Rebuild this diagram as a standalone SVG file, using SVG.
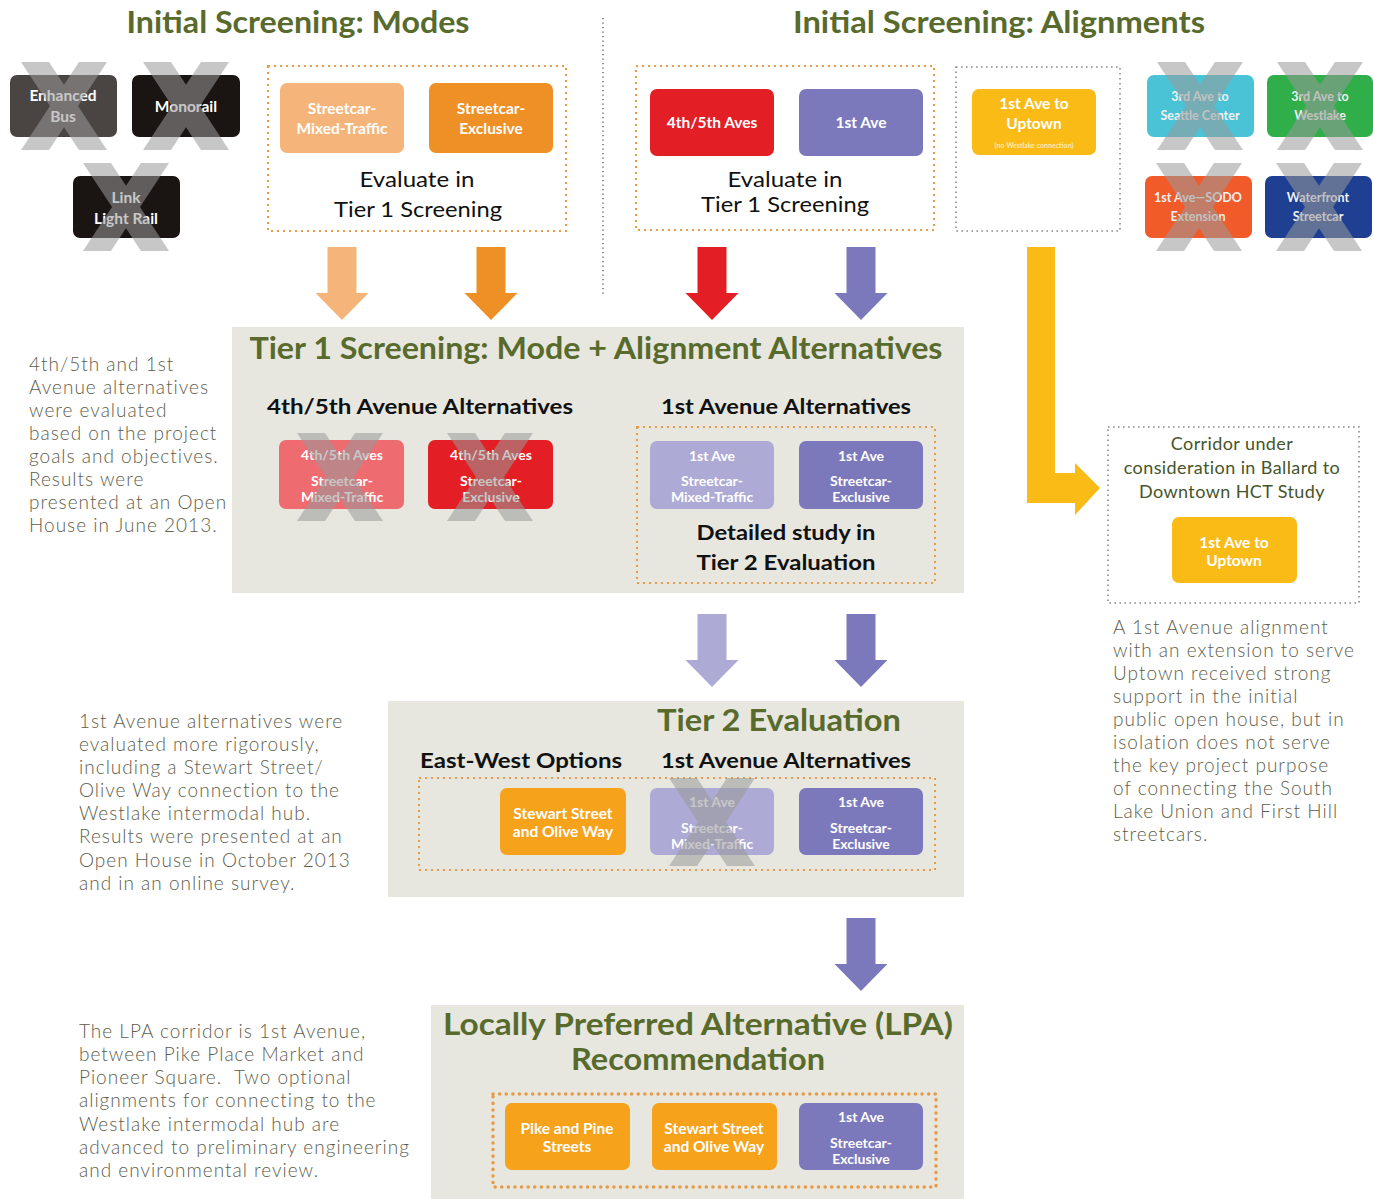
<svg xmlns="http://www.w3.org/2000/svg" xmlns:xlink="http://www.w3.org/1999/xlink" width="1373" height="1199" viewBox="0 0 1373 1199">
<style>
  .title { font-family: Lato, "Open Sans", "DejaVu Sans", sans-serif; font-weight: 700; font-size: 31px; fill: #586b2c; text-anchor: middle; }
  .sub { font-family: Lato, "Open Sans", "DejaVu Sans", sans-serif; font-weight: 700; font-size: 21px; fill: #111; text-anchor: middle; }
  .ev { font-family: Lato, "Open Sans", "DejaVu Sans", sans-serif; font-weight: 400; font-size: 20.5px; fill: #111; text-anchor: middle; }
  .lbl { font-family: Lato, "Open Sans", "DejaVu Sans", sans-serif; font-weight: 700; font-size: 15.5px; fill: #fff; text-anchor: middle; }
  .lbl.s14 { font-size: 14px; }
  .lbl.s7 { font-size: 7px; fill: #fde9b0; }
  .sm { font-family: Lato, "Open Sans", "DejaVu Sans", sans-serif; font-weight: 700; font-size: 12.5px; fill: #f2f2f2; text-anchor: middle; }
  .body { font-family: Lato, "Open Sans", "DejaVu Sans", sans-serif; font-weight: 300; font-size: 19px; letter-spacing: 1px; fill: #5e5e4c; }
  .note { font-family: Lato, "Open Sans", "DejaVu Sans", sans-serif; font-weight: 400; font-size: 18px; letter-spacing: 0.4px; fill: #46552a; text-anchor: middle; }
  .panel { fill: #e7e7e0; }
  .dotO { fill: none; stroke: #e99a45; stroke-width: 2; stroke-dasharray: 2 4; }
  .dotO2 { fill: none; stroke: #e99a45; stroke-width: 3.5; stroke-dasharray: 0.1 6.5; stroke-linecap: round; }
  .dotG { fill: none; stroke: #8a8a8a; stroke-width: 1.6; stroke-dasharray: 1.6 3.4; }
  .x { fill: #9a9a9a; opacity: 0.55; }
</style>
<defs>
  <symbol id="xmark" viewBox="0 0 86 88" width="86" height="88" overflow="visible">
    <polygon points="0,0 28,0 86,88 58,88"/>
    <polygon points="58,0 86,0 28,88 0,88"/>
  </symbol>
  <path id="arrowDown" d="M-14.5,0 h29 v46 h12 l-26.5,27 l-26.5,-27 h12 z"/>
</defs>

<rect width="1373" height="1199" fill="#ffffff"/>

<!-- Panels -->
<g id="panels">
  <rect class="panel" x="232" y="327" width="732" height="266"/>
  <rect class="panel" x="388" y="701" width="576" height="196"/>
  <rect class="panel" x="431" y="1005" width="533" height="194"/>
</g>

<!-- Headings -->
<g id="headings">
  <text class="title" x="298" y="33" textLength="343" lengthAdjust="spacingAndGlyphs">Initial Screening: Modes</text>
  <text class="title" x="999" y="33" textLength="412" lengthAdjust="spacingAndGlyphs">Initial Screening: Alignments</text>
  <line x1="603" y1="18" x2="603" y2="295" stroke="#555" stroke-width="1.3" stroke-dasharray="1.3 3.2"/>
  <text class="title" x="596" y="359" textLength="693" lengthAdjust="spacingAndGlyphs">Tier 1 Screening: Mode + Alignment Alternatives</text>
  <text class="sub" x="420" y="414" textLength="306" lengthAdjust="spacingAndGlyphs">4th/5th Avenue Alternatives</text>
  <text class="sub" x="786" y="414" textLength="250" lengthAdjust="spacingAndGlyphs">1st Avenue Alternatives</text>
  <text class="title" x="779" y="731" textLength="244" lengthAdjust="spacingAndGlyphs">Tier 2 Evaluation</text>
  <text class="sub" x="521" y="768" textLength="202" lengthAdjust="spacingAndGlyphs">East-West Options</text>
  <text class="sub" x="786" y="768" textLength="250" lengthAdjust="spacingAndGlyphs">1st Avenue Alternatives</text>
  <text class="title" x="698" y="1035" textLength="510" lengthAdjust="spacingAndGlyphs">Locally Preferred Alternative (LPA)</text>
  <text class="title" x="698" y="1070" textLength="254" lengthAdjust="spacingAndGlyphs">Recommendation</text>
</g>

<!-- Group boxes -->
<g id="group-modes">
  <rect class="dotO" x="268" y="66" width="298" height="165"/>
  <text class="ev" x="417" y="187" textLength="115" lengthAdjust="spacingAndGlyphs">Evaluate in</text>
  <text class="ev" x="418" y="217" textLength="168" lengthAdjust="spacingAndGlyphs">Tier 1 Screening</text>
</g>
<g id="group-alignments">
  <rect class="dotO" x="636" y="66" width="298" height="164"/>
  <text class="ev" x="785" y="187" textLength="115" lengthAdjust="spacingAndGlyphs">Evaluate in</text>
  <text class="ev" x="785" y="212" textLength="168" lengthAdjust="spacingAndGlyphs">Tier 1 Screening</text>
</g>
<g id="group-uptown">
  <rect class="dotG" x="956" y="67" width="164" height="164"/>
</g>
<g id="group-tier1-1st">
  <rect class="dotO" x="637" y="427" width="298" height="156"/>
  <text class="sub" x="786" y="540" textLength="179" lengthAdjust="spacingAndGlyphs">Detailed study in</text>
  <text class="sub" x="786" y="570" textLength="179" lengthAdjust="spacingAndGlyphs">Tier 2 Evaluation</text>
</g>
<g id="group-tier2">
  <rect class="dotO" x="419" y="778" width="516" height="92"/>
</g>
<g id="group-lpa">
  <rect class="dotO2" x="493" y="1094" width="443" height="93"/>
</g>
<g id="group-ballard">
  <rect class="dotG" x="1108" y="427" width="251" height="176"/>
  <text class="note" x="1232" y="450">Corridor under</text>
  <text class="note" x="1232" y="474">consideration in Ballard to</text>
  <text class="note" x="1232" y="498">Downtown HCT Study</text>
</g>

<!-- Connectors -->
<g id="connectors">
  <use href="#arrowDown" x="342" y="247" fill="#f5b57a"/>
  <use href="#arrowDown" x="491" y="247" fill="#ef9026"/>
  <use href="#arrowDown" x="712" y="247" fill="#e31e24"/>
  <use href="#arrowDown" x="861" y="247" fill="#7b79bb"/>
  <use href="#arrowDown" x="712" y="614" fill="#aeaad6"/>
  <use href="#arrowDown" x="861" y="614" fill="#7b79bb"/>
  <use href="#arrowDown" x="861" y="918" fill="#7b79bb"/>
  <path d="M1027,247 h28 v226 h20 v-10 l25,25 l-25,27 v-12 h-48 z" fill="#fbbb17"/>
</g>

<!-- Initial modes (eliminated) -->
<g id="node-enhanced-bus">
  <rect x="10" y="75" width="107" height="62" rx="7" fill="#4a4543"/>
  <text class="lbl" x="63" y="101">Enhanced</text>
  <text class="lbl" x="63" y="122">Bus</text>
  <use href="#xmark" class="x" x="21" y="62"/>
</g>
<g id="node-monorail">
  <rect x="132" y="75" width="108" height="62" rx="7" fill="#1a1412"/>
  <text class="lbl" x="186" y="112">Monorail</text>
  <use href="#xmark" class="x" x="143" y="62"/>
</g>
<g id="node-link">
  <rect x="73" y="176" width="107" height="62" rx="7" fill="#1a1412"/>
  <text class="lbl" x="126" y="203">Link</text>
  <text class="lbl" x="126" y="224">Light Rail</text>
  <use href="#xmark" class="x" x="83" y="163"/>
</g>

<!-- Initial modes (kept) -->
<g id="node-sc-mixed">
  <rect x="280" y="83" width="124" height="70" rx="7" fill="#f5b57a"/>
  <text class="lbl" x="342" y="114">Streetcar-</text>
  <text class="lbl" x="342" y="134">Mixed-Traffic</text>
</g>
<g id="node-sc-excl">
  <rect x="429" y="83" width="124" height="70" rx="7" fill="#ef9026"/>
  <text class="lbl" x="491" y="114">Streetcar-</text>
  <text class="lbl" x="491" y="134">Exclusive</text>
</g>

<!-- Initial alignments -->
<g id="node-45-aves">
  <rect x="650" y="89" width="124" height="67" rx="7" fill="#e31e24"/>
  <text class="lbl" x="712" y="128">4th/5th Aves</text>
</g>
<g id="node-1st-ave">
  <rect x="799" y="89" width="124" height="67" rx="7" fill="#7b79bb"/>
  <text class="lbl" x="861" y="128">1st Ave</text>
</g>
<g id="node-1st-uptown">
  <rect x="972" y="89" width="124" height="66" rx="7" fill="#fbbb17"/>
  <text class="lbl" x="1034" y="109">1st Ave to</text>
  <text class="lbl" x="1034" y="129">Uptown</text>
  <text class="lbl s7" x="1034" y="148">(no Westlake connection)</text>
</g>
<g id="node-3rd-seattle">
  <rect x="1147" y="75" width="107" height="62" rx="7" fill="#4bc3d6"/>
  <text class="sm" x="1200" y="101">3rd Ave to</text>
  <text class="sm" x="1200" y="120">Seattle Center</text>
  <use href="#xmark" class="x" x="1157" y="62"/>
</g>
<g id="node-3rd-westlake">
  <rect x="1267" y="75" width="106" height="62" rx="7" fill="#2fae4a"/>
  <text class="sm" x="1320" y="101">3rd Ave to</text>
  <text class="sm" x="1320" y="120">Westlake</text>
  <use href="#xmark" class="x" x="1277" y="62"/>
</g>
<g id="node-sodo">
  <rect x="1145" y="176" width="107" height="62" rx="7" fill="#f15a29"/>
  <text class="sm" x="1198" y="202">1st Ave—SODO</text>
  <text class="sm" x="1198" y="221">Extension</text>
  <use href="#xmark" class="x" x="1156" y="163"/>
</g>
<g id="node-waterfront">
  <rect x="1265" y="176" width="107" height="62" rx="7" fill="#1f3f93"/>
  <text class="sm" x="1318" y="202">Waterfront</text>
  <text class="sm" x="1318" y="221">Streetcar</text>
  <use href="#xmark" class="x" x="1276" y="163"/>
</g>

<!-- Tier 1 -->
<g id="node-t1-45-mixed">
  <rect x="279" y="440" width="125" height="69" rx="7" fill="#ee6b70"/>
  <text class="lbl s14" x="342" y="460">4th/5th Aves</text>
  <text class="lbl s14" x="342" y="485.5">Streetcar-</text>
  <text class="lbl s14" x="342" y="502">Mixed-Traffic</text>
  <use href="#xmark" class="x" x="297" y="433"/>
</g>
<g id="node-t1-45-excl">
  <rect x="428" y="440" width="125" height="69" rx="7" fill="#e31e24"/>
  <text class="lbl s14" x="491" y="460">4th/5th Aves</text>
  <text class="lbl s14" x="491" y="485.5">Streetcar-</text>
  <text class="lbl s14" x="491" y="502">Exclusive</text>
  <use href="#xmark" class="x" x="447" y="433"/>
</g>
<g id="node-t1-1st-mixed">
  <rect x="650" y="441" width="124" height="68" rx="7" fill="#aeaad6"/>
  <text class="lbl s14" x="712" y="461">1st Ave</text>
  <text class="lbl s14" x="712" y="485.5">Streetcar-</text>
  <text class="lbl s14" x="712" y="502">Mixed-Traffic</text>
</g>
<g id="node-t1-1st-excl">
  <rect x="799" y="441" width="124" height="68" rx="7" fill="#7b79bb"/>
  <text class="lbl s14" x="861" y="461">1st Ave</text>
  <text class="lbl s14" x="861" y="485.5">Streetcar-</text>
  <text class="lbl s14" x="861" y="502">Exclusive</text>
</g>

<!-- Ballard box node -->
<g id="node-ballard-uptown">
  <rect x="1172" y="517" width="125" height="66" rx="7" fill="#fbbb17"/>
  <text class="lbl" x="1234" y="548">1st Ave to</text>
  <text class="lbl" x="1234" y="566">Uptown</text>
</g>

<!-- Tier 2 -->
<g id="node-t2-stewart">
  <rect x="500" y="788" width="126" height="67" rx="7" fill="#f7a21b"/>
  <text class="lbl" x="563" y="819">Stewart Street</text>
  <text class="lbl" x="563" y="837">and Olive Way</text>
</g>
<g id="node-t2-1st-mixed">
  <rect x="650" y="788" width="124" height="67" rx="7" fill="#aeaad6"/>
  <text class="lbl s14" x="712" y="807">1st Ave</text>
  <text class="lbl s14" x="712" y="832.5">Streetcar-</text>
  <text class="lbl s14" x="712" y="849">Mixed-Traffic</text>
  <use href="#xmark" class="x" x="669" y="778"/>
</g>
<g id="node-t2-1st-excl">
  <rect x="799" y="788" width="124" height="67" rx="7" fill="#7b79bb"/>
  <text class="lbl s14" x="861" y="807">1st Ave</text>
  <text class="lbl s14" x="861" y="832.5">Streetcar-</text>
  <text class="lbl s14" x="861" y="849">Exclusive</text>
</g>

<!-- LPA -->
<g id="node-lpa-pike">
  <rect x="505" y="1103" width="125" height="67" rx="7" fill="#f7a21b"/>
  <text class="lbl" x="567" y="1134">Pike and Pine</text>
  <text class="lbl" x="567" y="1152">Streets</text>
</g>
<g id="node-lpa-stewart">
  <rect x="652" y="1103" width="125" height="67" rx="7" fill="#f7a21b"/>
  <text class="lbl" x="714" y="1134">Stewart Street</text>
  <text class="lbl" x="714" y="1152">and Olive Way</text>
</g>
<g id="node-lpa-1st">
  <rect x="799" y="1103" width="124" height="67" rx="7" fill="#7b79bb"/>
  <text class="lbl s14" x="861" y="1122">1st Ave</text>
  <text class="lbl s14" x="861" y="1147.5">Streetcar-</text>
  <text class="lbl s14" x="861" y="1164">Exclusive</text>
</g>

<!-- Notes -->
<g id="note-tier1">
  <text class="body" x="29" y="371">4th/5th and 1st</text>
  <text class="body" x="29" y="394">Avenue alternatives</text>
  <text class="body" x="29" y="417">were evaluated</text>
  <text class="body" x="29" y="440">based on the project</text>
  <text class="body" x="29" y="463">goals and objectives.</text>
  <text class="body" x="29" y="486">Results were</text>
  <text class="body" x="29" y="509">presented at an Open</text>
  <text class="body" x="29" y="532">House in June 2013.</text>
</g>
<g id="note-tier2">
  <text class="body" x="79" y="728">1st Avenue alternatives were</text>
  <text class="body" x="79" y="751">evaluated more rigorously,</text>
  <text class="body" x="79" y="774">including a Stewart Street/</text>
  <text class="body" x="79" y="797">Olive Way connection to the</text>
  <text class="body" x="79" y="820">Westlake intermodal hub.</text>
  <text class="body" x="79" y="843">Results were presented at an</text>
  <text class="body" x="79" y="867">Open House in October 2013</text>
  <text class="body" x="79" y="890">and in an online survey.</text>
</g>
<g id="note-lpa">
  <text class="body" x="79" y="1038">The LPA corridor is 1st Avenue,</text>
  <text class="body" x="79" y="1061">between Pike Place Market and</text>
  <text class="body" x="79" y="1084" xml:space="preserve">Pioneer Square.  Two optional</text>
  <text class="body" x="79" y="1107">alignments for connecting to the</text>
  <text class="body" x="79" y="1131">Westlake intermodal hub are</text>
  <text class="body" x="79" y="1154">advanced to preliminary engineering</text>
  <text class="body" x="79" y="1177">and environmental review.</text>
</g>
<g id="note-uptown">
  <text class="body" x="1113" y="634">A 1st Avenue alignment</text>
  <text class="body" x="1113" y="657">with an extension to serve</text>
  <text class="body" x="1113" y="680">Uptown received strong</text>
  <text class="body" x="1113" y="703">support in the initial</text>
  <text class="body" x="1113" y="726">public open house, but in</text>
  <text class="body" x="1113" y="749">isolation does not serve</text>
  <text class="body" x="1113" y="772">the key project purpose</text>
  <text class="body" x="1113" y="795">of connecting the South</text>
  <text class="body" x="1113" y="818">Lake Union and First Hill</text>
  <text class="body" x="1113" y="841">streetcars.</text>
</g>
</svg>
